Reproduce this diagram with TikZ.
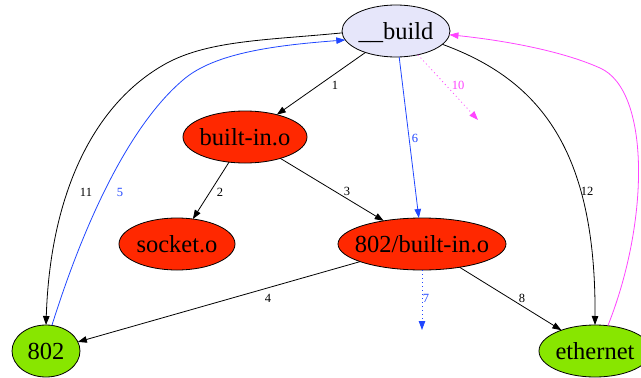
\documentclass[tikz,border=0pt]{standalone}
\usepackage{fontspec}
\setmainfont{Liberation Serif}
\usetikzlibrary{shapes.geometric,arrows.meta}

\definecolor{buildfill}{HTML}{E6E6FA}
\definecolor{objfill}{HTML}{FF2800}
\definecolor{dirfill}{HTML}{88E600}
\definecolor{eblue}{HTML}{2046FF}
\definecolor{emagenta}{HTML}{FF44FF}

% node text is kept out of the shape size so the ellipse keeps its given size
\newcommand\gvtext[1]{\makebox[0pt]{\raisebox{-0.33em}[0pt][0pt]{#1}}}

\tikzset{
  gvnode/.style={ellipse, draw=black, line width=0.8pt, inner sep=0pt, outer sep=0pt,
                 minimum height=52pt, font=\fontsize{24.5}{29}\selectfont},
  edge/.style={line width=0.8pt, -{Triangle[length=9pt,width=6.5pt]}},
  dotedge/.style={edge, dash pattern=on 1pt off 3pt},
  elabel/.style={font=\fontsize{12.5}{14}\selectfont, inner sep=0pt}
}

\begin{document}
\begin{tikzpicture}[x=1pt,y=-1pt]
\useasboundingbox (0,0) rectangle (641,378);
\clip (0,0) rectangle (641,378);

% nodes
\node[gvnode, fill=buildfill, minimum width=108pt] (build) at (396,31) {\gvtext{\_\_build}};
\node[gvnode, fill=objfill, minimum width=124pt] (bi) at (245,137) {\gvtext{built-in.o}};
\node[gvnode, fill=objfill, minimum width=116pt] (sock) at (177,244) {\gvtext{socket.o}};
\node[gvnode, fill=objfill, minimum width=168pt] (bi802) at (422,244) {\gvtext{802/built-in.o}};
\node[gvnode, fill=dirfill, minimum width=68pt] (n802) at (46,351) {\gvtext{802}};
\node[gvnode, fill=dirfill, minimum width=112pt] (eth) at (595,351) {\gvtext{ethernet}};

% loose ends of the dotted edges
\coordinate (e7) at (422,330);
\coordinate (e10) at (478,120);

% edges
\draw[edge] (build) -- (bi);
\draw[edge] (bi) -- (sock);
\draw[edge] (bi) -- (bi802);
\draw[edge] (bi802) -- (n802);
\draw[edge, eblue] (n802.77) .. controls (85,220) and (130,125) .. (183,80)
                             .. controls (215,52) and (280,45) .. (build.190);
\draw[edge, eblue] (build) -- (bi802);
\draw[dotedge, eblue] (bi802.south) -- (e7);
\draw[edge] (bi802) -- (eth);
\draw[dotedge, emagenta] (build) -- (e10);
\draw[edge] (build.182) .. controls (270,40) and (210,40) .. (167,63)
                        .. controls (90,105) and (50,200) .. (n802.north);
\draw[edge] (build.344) .. controls (540,80) and (596,150) .. (eth.north);
\draw[edge, emagenta] (eth.63) .. controls (650,220) and (650,90) .. (600,68)
                               .. controls (560,50) and (500,40) .. (build.356);

% edge labels
\node[elabel] (l1) at (335,85) {1};
\node[elabel] (l2) at (220,192) {2};
\node[elabel] (l3) at (347,191) {3};
\node[elabel] (l4) at (268,298) {4};
\node[elabel, text=eblue] (l5) at (120,192) {5};
\node[elabel, text=eblue] (l6) at (415,138) {6};
\node[elabel, text=eblue] (l7) at (426,298) {7};
\node[elabel] (l8) at (522,298) {8};
\node[elabel, text=emagenta] (l10) at (458,85) {10};
\node[elabel] (l11) at (86,192) {11};
\node[elabel] (l12) at (587,191) {12};
\end{tikzpicture}
\end{document}
